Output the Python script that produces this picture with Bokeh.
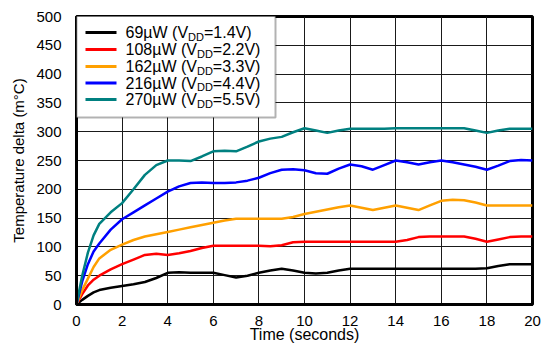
from bokeh.plotting import figure
from bokeh.models import Label, BoxAnnotation, Arrow, FixedTicker, Range1d
from bokeh.embed import file_html
from bokeh.resources import INLINE

# ---- data ----
t = [0, 0.25, 0.5, 0.75, 1, 1.5, 2, 2.5, 3, 3.5, 4, 4.5, 5, 5.5, 6, 6.5, 7, 7.5, 8, 8.5,
     9, 9.5, 10, 10.5, 11, 11.5, 12, 12.5, 13, 13.5, 14, 14.5, 15, 15.5, 16, 16.5, 17,
     17.5, 18, 18.5, 19, 19.5, 20]

p69 = [0, 8, 15, 21, 25, 29, 32, 35, 39, 46, 55, 56, 55, 55, 55, 51, 47, 50, 55, 59,
       62, 59, 55, 54, 55, 59, 62, 62, 62, 62, 62, 62, 62, 62, 62, 62, 62,
       62, 63, 67, 70, 70, 70]
p108 = [0, 18, 33, 43, 50, 61, 70, 78, 86, 88, 86, 89, 93, 98, 102, 102, 102, 102, 102, 101,
        103, 108, 109, 109, 109, 109, 109, 109, 109, 109, 109, 112, 117, 118, 118, 118, 118,
        114, 109, 113, 117, 118, 118]
p162 = [0, 25, 45, 65, 80, 95, 104, 112, 118, 122, 126, 130, 134, 138, 142, 146, 149, 149, 149, 149,
        149, 152, 157, 161, 165, 169, 172, 168, 164, 168, 172, 168, 164, 172, 180, 182, 181,
        177, 172, 172, 172, 172, 172]
p216 = [0, 40, 70, 92, 106, 130, 148, 160, 172, 184, 196, 205, 211, 212, 211, 211, 212, 215, 220, 228,
        234, 235, 233, 228, 227, 236, 243, 240, 234, 242, 250, 247, 243, 247, 250, 247, 243,
        239, 234, 241, 249, 251, 250]
p270 = [0, 50, 90, 120, 140, 160, 176, 200, 225, 242, 250, 250, 249, 257, 266, 267, 266, 274, 283, 288,
        291, 299, 306, 302, 298, 302, 305, 305, 305, 305, 306, 306, 306, 306, 306, 306, 306,
        302, 298, 302, 305, 305, 305]

series = [p69, p108, p162, p216, p270]
colors = ["#000000", "#ff0000", "#ffa000", "#0000ff", "#008080"]
powers = ["69µW", "108µW", "162µW", "216µW", "270µW"]
vdds = ["1.4V", "2.2V", "3.3V", "4.4V", "5.5V"]

x_ticks = [0, 2, 4, 6, 8, 10, 12, 14, 16, 18, 20]
y_ticks = [0, 50, 100, 150, 200, 250, 300, 350, 400, 450, 500]
x_title = "Time (seconds)"
y_title = "Temperature delta (m°C)"

FONT = "Liberation Sans"

p = figure(width=542, height=345, x_range=Range1d(0, 20), y_range=Range1d(0, 500),
           output_backend="svg", toolbar_location=None,
           min_border_left=76, min_border_right=10, min_border_top=16, min_border_bottom=40)
p.background_fill_color = "white"
p.border_fill_color = "white"
p.outline_line_color = "black"
p.outline_line_width = 3

p.xaxis.ticker = FixedTicker(ticks=x_ticks)
p.yaxis.ticker = FixedTicker(ticks=y_ticks)
for ax in (p.xaxis, p.yaxis):
    ax.axis_line_color = "black"
    ax.axis_line_width = 3
    ax.major_tick_line_color = None
    ax.minor_tick_line_color = None
    ax.major_label_text_font = FONT
    ax.major_label_text_font_size = "15px"
    ax.major_label_text_color = "black"
    ax.axis_label_text_font = FONT
    ax.axis_label_text_font_style = "normal"
    ax.axis_label_text_color = "black"

p.xaxis.major_label_standoff = 5
p.xaxis.axis_label = x_title
p.xaxis.axis_label_text_font_size = "16px"
p.xaxis.axis_label_standoff = -3
p.yaxis.major_label_standoff = 9
p.yaxis.axis_label = y_title
p.yaxis.axis_label_text_font_size = "15px"
p.yaxis.axis_label_standoff = 6

p.xgrid.grid_line_color = "#1a1a1a"
p.ygrid.grid_line_color = "#1a1a1a"
p.xgrid.grid_line_width = 1
p.ygrid.grid_line_width = 1

for ys, c in zip(series, colors):
    p.line(t, ys, line_color=c, line_width=2.5)

# ---- legend (drawn manually to allow the V_DD subscript) ----
p.add_layout(BoxAnnotation(left=0, right=199, bottom=187, top=289,
                           left_units="screen", right_units="screen",
                           bottom_units="screen", top_units="screen",
                           fill_color="white", fill_alpha=1.0,
                           line_color="black", line_width=2))

# Arial / Liberation Sans advance widths (per 1000 em)
W = {"0": 556, "1": 556, "2": 556, "3": 556, "4": 556, "5": 556, "6": 556, "7": 556,
     "8": 556, "9": 556, "µ": 576, "W": 944, " ": 278, "(": 333, "V": 667, "D": 722,
     "=": 584, ".": 278, ")": 333}

def tw(s, size):
    return sum(W.get(ch, 556) for ch in s) * size / 1000.0

main_size = 16
sub_size = 11
row_y = [272, 255, 238, 221.5, 205]
for i in range(5):
    y = row_y[i]
    p.add_layout(Arrow(end=None, x_start=9, x_end=40, y_start=y, y_end=y,
                       start_units="screen", end_units="screen",
                       line_color=colors[i], line_width=3))
    pre = powers[i] + " (V"
    x0 = 49
    p.add_layout(Label(x=x0, y=y, x_units="screen", y_units="screen", text=pre,
                       text_font=FONT, text_font_size=f"{main_size}px",
                       text_baseline="middle", text_align="left", text_color="black"))
    x1 = x0 + tw(pre, main_size)
    p.add_layout(Label(x=x1, y=y - 4, x_units="screen", y_units="screen", text="DD",
                       text_font=FONT, text_font_size=f"{sub_size}px",
                       text_baseline="middle", text_align="left", text_color="black"))
    x2 = x1 + tw("DD", sub_size)
    p.add_layout(Label(x=x2, y=y, x_units="screen", y_units="screen", text="=" + vdds[i] + ")",
                       text_font=FONT, text_font_size=f"{main_size}px",
                       text_baseline="middle", text_align="left", text_color="black"))

open("out.html", "w").write(file_html(p, INLINE))
